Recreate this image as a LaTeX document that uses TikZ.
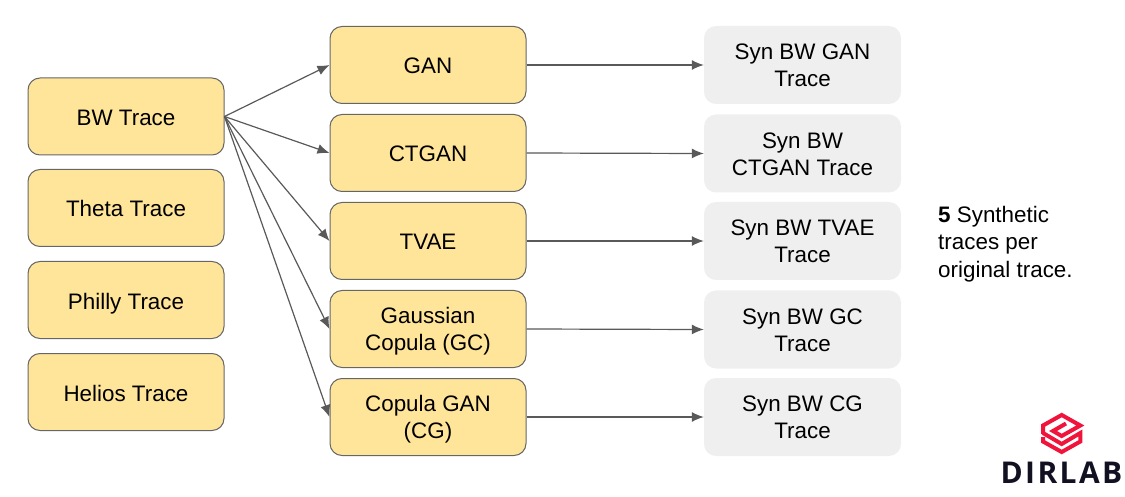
\documentclass[tikz,border=0pt]{standalone}
\usepackage{fontspec}
\usetikzlibrary{arrows.meta}
\setmainfont{Liberation Sans}
\newfontfamily\logofont[LetterSpace=8]{Open Sans}
\newcommand{\topfix}{\rule{0pt}{24pt}}
\newcommand{\twofix}{\rule{0pt}{49.5pt}}
\newcommand{\botfix}{\rule[-6pt]{0pt}{6pt}}
\begin{document}
\begin{tikzpicture}[x=1pt,y=-1pt,
  boxtext/.style={inner sep=0pt,align=center,font=\fontsize{22.4}{27}\selectfont,execute at begin node=\topfix,execute at end node=\botfix},
  twolines/.style={execute at begin node=\twofix},
  yellowbox/.style={boxtext,draw=black!60,line width=1pt,fill=yellow1,rounded corners=12pt,minimum width=196pt,minimum height=77pt},
  greybox/.style={boxtext,twolines,draw=none,fill=grey1,rounded corners=12pt,minimum width=197pt,minimum height=78pt},
  conn/.style={draw=black!65,line width=1.2pt,-{Latex[length=12pt,width=10pt]}},
  logostroke/.style={draw=logored,line width=4pt,miter limit=10},
]
\definecolor{yellow1}{HTML}{FFE599}
\definecolor{grey1}{HTML}{EFEFEF}
\definecolor{logored}{HTML}{F0143C}
\definecolor{logoblk}{HTML}{111122}
\useasboundingbox (0,0) rectangle (1125,497);
\node[yellowbox] (bw) at (126,116.5) {BW Trace};
\node[yellowbox] (theta) at (126,208) {Theta Trace};
\node[yellowbox] (philly) at (126,300) {Philly Trace};
\node[yellowbox] (helios) at (126,392) {Helios Trace};
\node[yellowbox] (gan) at (428,65) {GAN};
\node[yellowbox] (ctgan) at (428,153) {CTGAN};
\node[yellowbox] (tvae) at (428,241) {TVAE};
\node[yellowbox,twolines] (gc) at (428,329) {Gaussian\\Copula (GC)};
\node[yellowbox,twolines] (cg) at (428,417) {Copula GAN\\(CG)};
\node[greybox] (sgan) at (802.5,65) {Syn BW GAN\\Trace};
\node[greybox] (sctgan) at (802.5,153.5) {Syn BW\\CTGAN Trace};
\node[greybox] (stvae) at (802.5,241) {Syn BW TVAE\\Trace};
\node[greybox] (sgc) at (802.5,329.5) {Syn BW GC\\Trace};
\node[greybox] (scg) at (802.5,417) {Syn BW CG\\Trace};
\foreach \t in {gan,ctgan,tvae,gc,cg} \draw[conn] (bw.east) -- (\t.west);
\draw[conn] (gan.east) -- (sgan.west);
\draw[conn] (ctgan.east) -- (sctgan.west);
\draw[conn] (tvae.east) -- (stvae.west);
\draw[conn] (gc.east) -- (sgc.west);
\draw[conn] (cg.east) -- (scg.west);
\node[anchor=north west,inner sep=0pt,align=left,font=\fontsize{22.4}{27.5}\selectfont] (note) at (938,206) {\textbf{5} Synthetic\\traces per\\original trace.};
\node[inner sep=0pt,font=\logofont\bfseries\fontsize{30}{30}\selectfont,text=logoblk] (logo) at (1061.5,472.5) {DIRLAB};
\draw[logostroke] (1043,434) -- (1043,425.5) -- (1061.7,415) -- (1080.3,425.5) -- (1061.7,436) -- (1053,431) -- (1066,423.5);
\draw[logostroke] (1043,433) -- (1061.7,444) -- (1080.3,433) -- (1080.3,441.5) -- (1061.7,452) -- (1043,441.5) -- (1043,437);
\end{tikzpicture}
\end{document}
